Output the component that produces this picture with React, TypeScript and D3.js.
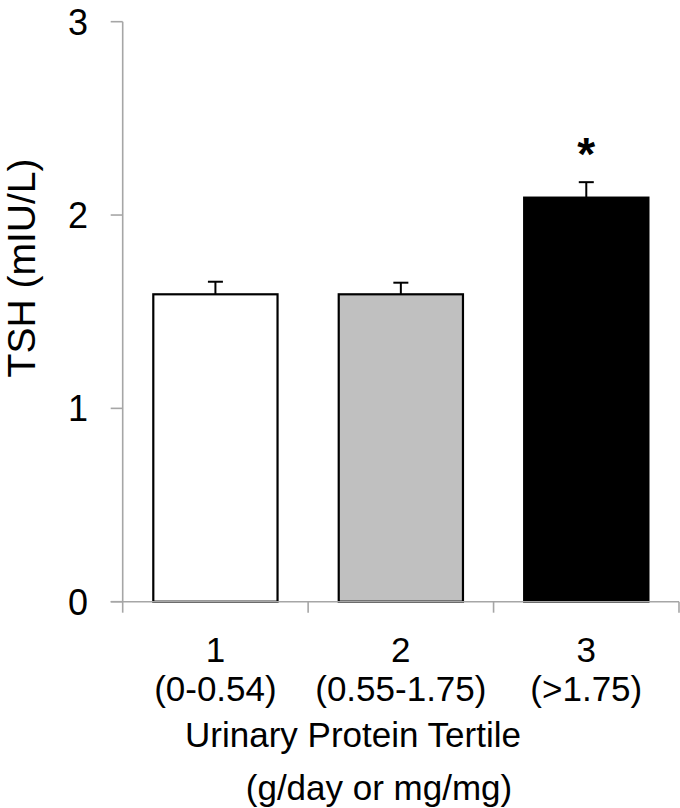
import React from 'react';
import * as d3 from 'd3';

// values
const tertiles = ['1', '2', '3'];
const tertileRanges = ['(0-0.54)', '(0.55-1.75)', '(>1.75)'];
const tshMean = [1.59, 1.59, 2.09];
const tshSem = [0.065, 0.06, 0.08];
const significant = [false, false, true];
const yTicks = [0, 1, 2, 3];

const barFills = ['#ffffff', '#c0c0c0', '#000000'];
const axisGray = '#a6a6a6';
const font = '"Liberation Sans", Arial, sans-serif';

const App = () => {
    const left = 122.7;
    const right = 679;
    const top = 21.7;
    const bottom = 601.7;

    const x = d3.scaleBand<string>()
        .domain(tertiles)
        .range([left, right])
        .paddingInner(0.33)
        .paddingOuter(0.165);

    const y = d3.scaleLinear()
        .domain([0, 3])
        .range([bottom, top]);

    const step = x.step();
    const bw = x.bandwidth();
    // category boundary ticks on the x axis
    const boundaries = d3.range(tertiles.length + 1).map((i) => left + i * step);

    return (
        <svg width={680} height={808}
            style={{ position: 'absolute', left: 0, top: 0, background: '#fff' }}
            fontFamily={font}>
            {/* bars */}
            {tertiles.map((t, i) => (
                <rect key={'bar' + t}
                    x={x(t)} y={y(tshMean[i])}
                    width={bw} height={y(0) - y(tshMean[i])}
                    fill={barFills[i]} stroke="#000" strokeWidth={2.2} />
            ))}

            {/* error bars (upper only) */}
            {tertiles.map((t, i) => {
                const cx = (x(t) as number) + bw / 2;
                return (
                    <g key={'err' + t} stroke="#000" strokeWidth={2}>
                        <line x1={cx} x2={cx} y1={y(tshMean[i])} y2={y(tshMean[i] + tshSem[i])} />
                        <line x1={cx - 7.5} x2={cx + 7.5} y1={y(tshMean[i] + tshSem[i])} y2={y(tshMean[i] + tshSem[i])} />
                    </g>
                );
            })}

            {/* significance stars */}
            {tertiles.map((t, i) => significant[i] && (
                <text key={'star' + t}
                    x={(x(t) as number) + bw / 2}
                    y={y(tshMean[i] + tshSem[i]) - 12}
                    textAnchor="middle" fontSize={46} fontWeight="bold" fill="#000">*</text>
            ))}

            {/* y axis */}
            <line x1={left} x2={left} y1={top} y2={bottom} stroke={axisGray} strokeWidth={1.6} />
            {yTicks.map((v) => (
                <g key={'yt' + v}>
                    <line x1={left - 12} x2={left} y1={y(v)} y2={y(v)} stroke={axisGray} strokeWidth={1.6} />
                    <text x={88} y={y(v)} dy="0.36em" textAnchor="end" fontSize={36} fill="#000">{v}</text>
                </g>
            ))}

            {/* x axis */}
            <line x1={left - 12} x2={right} y1={bottom} y2={bottom} stroke={axisGray} strokeWidth={1.6} />
            {boundaries.map((bx, i) => (
                <line key={'xt' + i} x1={bx} x2={bx} y1={bottom} y2={bottom + 11} stroke={axisGray} strokeWidth={1.6} />
            ))}
            {tertiles.map((t, i) => (
                <g key={'xl' + t}>
                    <text x={(x(t) as number) + bw / 2} y={662} textAnchor="middle" fontSize={35} fill="#000">{t}</text>
                    <text x={(x(t) as number) + bw / 2} y={701} textAnchor="middle" fontSize={35} fill="#000">{tertileRanges[i]}</text>
                </g>
            ))}

            {/* axis titles */}
            <text x={353} y={747} textAnchor="middle" fontSize={35} fill="#000">Urinary Protein Tertile</text>
            <text x={379} y={800} textAnchor="middle" fontSize={35} fill="#000">(g/day or mg/mg)</text>
            <text transform={`translate(35,${268}) rotate(-90)`} textAnchor="middle" fontSize={39} fill="#000">TSH (mIU/L)</text>
        </svg>
    );
};

export default App;
